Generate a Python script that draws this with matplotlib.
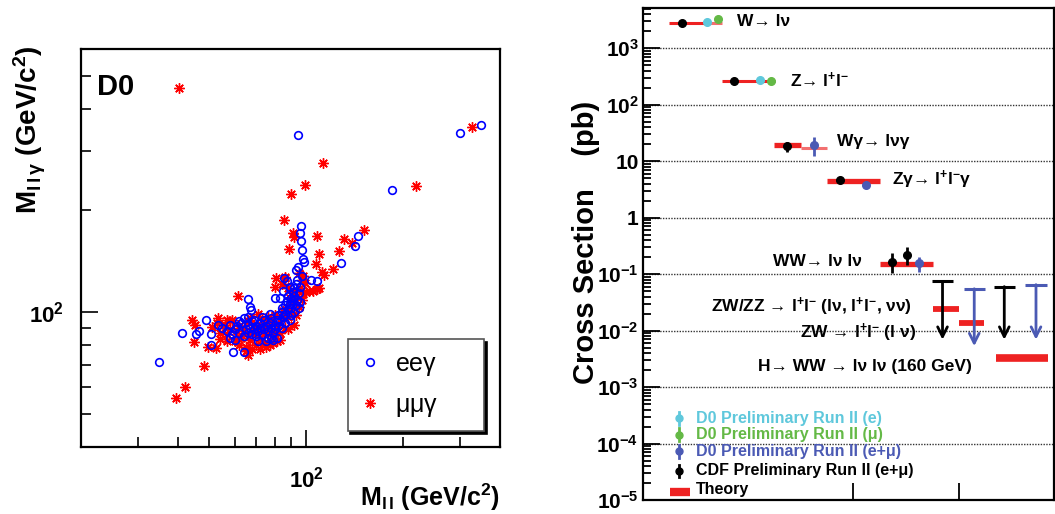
import numpy as np
import matplotlib
matplotlib.use("Agg")
import matplotlib.pyplot as plt
from matplotlib.ticker import FixedLocator, FixedFormatter, NullFormatter

plt.rcParams['mathtext.fontset'] = 'custom'
plt.rcParams['mathtext.rm'] = 'Liberation Sans'
plt.rcParams['mathtext.bf'] = 'Liberation Sans:bold'
plt.rcParams['mathtext.it'] = 'Liberation Sans:italic'

WIDE = ['Liberation Sans', 'DejaVu Sans']
NARROW = ['Liberation Sans Narrow', 'Liberation Sans', 'DejaVu Sans']

# ---------------- left panel data: M_ll vs M_llgamma (GeV/c^2) ----------------
ee_mll = [94.6, 300.8, 348.8, 185.4, 145.3, 142.2, 128.4, 108.4, 96.5, 96.0, 96.3, 97.0,
          97.7, 98.2, 94.6, 93.1, 65.9, 67.0, 67.2, 41.3, 34.9, 48.9, 45.6, 46.6, 50.5,
          50.8, 59.5, 64.3, 53.2, 77.9, 80.1, 85.6, 103.6,
          55, 57, 58, 59, 60, 61, 62, 63, 64, 65, 66, 66, 67, 68, 68, 69, 70, 70, 71, 72,
          72, 73, 74, 74, 75, 76, 76, 77, 78, 78, 79, 80, 80, 81, 82, 82, 83, 84, 84, 85,
          86, 86, 87, 88, 88, 89, 90, 90, 91, 91, 92, 92, 93, 93, 94, 94, 95, 89, 87, 85,
          83, 96, 97, 71, 75, 79, 81, 69, 73, 77, 62, 64, 66, 58, 60, 92, 90, 95, 96, 89,
          86, 84]
ee_mllg = [335, 339, 358, 230, 168, 157, 140, 124, 180, 171, 162.6, 152.7, 143.7, 141,
           136.4, 133.4, 109.7, 103.4, 101.5, 86.6, 71.2, 94.7, 86.4, 88.0, 86.0, 80.2,
           76.6, 76.6, 92.0, 84.1, 110.2, 126.6, 124.7,
           90, 88, 92, 86, 89, 91, 87, 93, 85, 89, 92, 87, 90, 86, 94, 89, 91, 85, 88, 93,
           90, 86, 89, 95, 91, 88, 84, 93, 90, 96, 87, 92, 89, 95, 91, 98, 94, 100, 103,
           97, 105, 99, 108, 102, 112, 106, 110, 103, 115, 108, 118, 112, 105, 121, 109,
           125, 114, 119, 124, 116, 110, 119, 128, 82, 82, 83, 84, 95, 97, 99, 94, 96, 97,
           84, 83, 100, 98, 103, 107, 95, 93, 90]

mm_mll = [40.3, 113.2, 99.3, 89.8, 219.6, 327, 85.6, 151.6, 131.5, 139.2, 126.9, 107.9,
          109.7, 91.1, 91.4, 88.7, 121, 114, 111.9, 107.2, 61.4, 80.7, 80.1, 85.9, 44.3,
          45.2, 45.0, 49.7, 52.6, 48.3, 42.1, 39.4, 66.2, 64.9, 53.1, 56.7, 56.7, 54.0,
          50.9,
          56, 57, 58, 59, 60, 61, 62, 63, 64, 65, 66, 67, 68, 69, 70, 70, 71, 72, 73, 74,
          74, 75, 76, 77, 77, 78, 79, 80, 80, 81, 82, 83, 84, 85, 86, 87, 88, 89, 90, 91,
          92, 93, 94, 95, 96, 97, 98, 100, 102, 105, 108, 110, 99, 97, 88, 86, 84, 95, 62,
          65, 68, 72, 75, 79, 83, 53, 54, 76, 71, 67, 98, 92, 88]
mm_mllg = [460, 276, 238, 223, 236, 353, 188, 175, 165, 160, 152, 168, 149, 171, 167, 154,
           134, 129, 132, 139, 112, 126, 119, 126.6, 94.7, 91.6, 81.9, 79.2, 78.3, 69.2,
           60.3, 55.7, 74.6, 76.9, 96.3, 95.2, 82.2, 83.6, 90.6,
           92, 86, 89, 95, 82, 88, 91, 84, 90, 86, 94, 83, 88, 92, 80, 87, 90, 84, 95, 81,
           88, 92, 86, 80, 90, 94, 85, 88, 98, 82, 92, 87, 96, 101, 90, 104, 97, 110, 100,
           107, 115, 98, 112, 104, 118, 109, 113, 115, 116, 116, 117, 118, 122, 125, 118,
           127, 121, 131, 80, 79, 78, 78, 79, 81, 83, 93, 87, 97, 99, 96, 128, 92, 89]

# ---------------- right panel data: cross sections (pb) ----------------
# theory bands: x start, x end, sigma
th_x0 = [0.25, 0.61, 0.75, 1.25, 1.50, 1.75, 2.25, 2.75, 3.00, 3.35]
th_x1 = [0.61, 0.75, 1.26, 1.50, 1.75, 2.25, 2.75, 3.00, 3.24, 3.85]
th_sig = [2780, 2780, 258, 19.4, 17.0, 4.49, 0.150, 0.024, 0.0136, 0.0033]
th_lw = [2.2, 2.2, 2.2, 3.8, 2.2, 3.8, 3.8, 4.2, 4.2, 5.5]
th_col = ['#ee2222', '#f27070', '#ee2222', '#ee2222', '#f27070', '#ee2222', '#ee2222',
          '#ee2222', '#ee2222', '#ee2222']

# measurements: x, sigma, lower err, upper err
cdf_x = [0.376, 0.870, 1.373, 1.874, 2.370, 2.507]
cdf_sig = [2830, 258, 18.9, 4.61, 0.167, 0.219]
cdf_lo = [0, 0, 4.1, 0.3, 0.063, 0.073]
cdf_hi = [0, 0, 3.3, 0.3, 0.068, 0.088]
d0e_x = [0.613, 1.114]
d0e_sig = [2950, 275]
d0m_x = [0.718, 1.216]
d0m_sig = [3300, 262]
d0em_x = [1.627, 2.121, 2.624]
d0em_sig = [19.4, 3.81, 0.160]
d0em_lo = [7.3, 0.4, 0.049]
d0em_hi = [7.8, 0.5, 0.045]

# upper limits: x, sigma at cap, tip of arrow
lim_x = [2.845, 3.146, 3.431, 3.732]
lim_cap = [0.074, 0.055, 0.060, 0.065]
lim_tip = [0.0069, 0.0053, 0.0069, 0.0069]
lim_col = ['black', '#4b5ab4', 'black', '#4b5ab4']

CYAN = '#5fc8dc'
GREEN = '#64b946'
BLUE = '#4b5ab4'
RED = '#ee2222'

W, H = 1055, 514
fig = plt.figure(figsize=(W / 100, H / 100), dpi=100)

# ======================= left panel =======================
axL = fig.add_axes([81 / W, 1 - 447 / H, 419 / W, 398 / H])
axL.set_xscale('log')
axL.set_yscale('log')
axL.plot(mm_mll, mm_mllg, ls='none', marker=(8, 2, 0), ms=7.5, mew=1.0, color='red',
         label=r'$\mathregular{\mu\mu\gamma}$')
axL.plot(ee_mll, ee_mllg, ls='none', marker='o', ms=5.5, mew=1.2, mfc='none', mec='blue',
         label=r'$\mathregular{ee\gamma}$')
axL.set_xlim(20, 400)
axL.set_ylim(40, 600)

axL.xaxis.set_major_locator(FixedLocator([100]))
axL.xaxis.set_minor_locator(FixedLocator([30, 40, 50, 60, 70, 80, 90, 200, 300]))
axL.xaxis.set_major_formatter(FixedFormatter([r'$\mathregular{10^{2}}$']))
axL.xaxis.set_minor_formatter(NullFormatter())
axL.yaxis.set_major_locator(FixedLocator([100]))
axL.yaxis.set_minor_locator(FixedLocator([50, 60, 70, 80, 90, 200, 300, 400, 500]))
axL.yaxis.set_major_formatter(FixedFormatter([r'$\mathregular{10^{2}}$']))
axL.yaxis.set_minor_formatter(NullFormatter())
axL.tick_params(which='both', direction='in', top=False, right=False, width=1.2)
axL.tick_params(which='major', length=12)
axL.tick_params(which='minor', length=7)
axL.tick_params(axis='x', which='major', pad=14)
axL.tick_params(axis='y', which='major', pad=12)
for lab in axL.get_xticklabels() + axL.get_yticklabels():
    lab.set_family(WIDE)
    lab.set_fontweight('bold')
    lab.set_fontsize(16)
for sp in axL.spines.values():
    sp.set_linewidth(1.6)

axL.text(0.037, 0.905, 'D0', transform=axL.transAxes, family=WIDE, fontweight='bold',
         fontsize=21, va='center', ha='left')
fig.text(30 / W, 1 - 130 / H, r'M$_{\mathregular{l\,l\,\gamma}}$ (GeV/c$^{\mathregular{2}}$)',
         rotation=90, family=WIDE, fontweight='bold', fontsize=20, ha='center', va='center')
fig.text(500 / W, 1 - 497 / H, r'M$_{\mathregular{l\,l}}$ (GeV/c$^{\mathregular{2}}$)',
         family=WIDE, fontweight='bold', fontsize=18, ha='right', va='center')

handles, labels = axL.get_legend_handles_labels()
leg = axL.legend(handles[::-1], labels[::-1], loc='lower left',
                 bbox_to_anchor=(0.6365, 0.040, 0.3255, 0.229), mode='expand',
                 borderaxespad=0, fancybox=False, shadow={'color': 'black', 'alpha': 1},
                 prop={'family': WIDE, 'size': 18}, labelspacing=0.6, borderpad=0.5,
                 handlelength=0.8, handletextpad=0.6)
leg.get_frame().set_edgecolor('#555555')
leg.get_frame().set_linewidth(1.2)

# ======================= right panel =======================
axR = fig.add_axes([642.7 / W, 1 - 500 / H, 411 / W, 491.7 / H])
axR.set_yscale('log')
axR.set_xlim(0, 3.9)
axR.set_ylim(1e-5, 5093)

for dec in [1e3, 1e2, 1e1, 1, 1e-1, 1e-2, 1e-3, 1e-4]:
    axR.axhline(dec, color='#333333', lw=1.0, ls=(0, (1, 1)), zorder=1)

for x0, x1, s, lw, c in zip(th_x0, th_x1, th_sig, th_lw, th_col):
    axR.plot([x0, x1], [s, s], color=c, lw=lw, solid_capstyle='butt', zorder=2)

axR.errorbar(cdf_x, cdf_sig, yerr=[cdf_lo, cdf_hi], fmt='o', color='black', ms=5.5,
             elinewidth=2, capsize=0, zorder=4)
axR.plot(d0e_x, d0e_sig, 'o', color=CYAN, ms=5.5, zorder=4)
axR.plot(d0m_x, d0m_sig, 'o', color=GREEN, ms=5.5, zorder=4)
axR.errorbar(d0em_x, d0em_sig, yerr=[d0em_lo, d0em_hi], fmt='o', color=BLUE, ms=5.5,
             elinewidth=2, capsize=0, zorder=4)

for x, cap, tip, c in zip(lim_x, lim_cap, lim_tip, lim_col):
    axR.plot([x - 0.1, x + 0.1], [cap, cap], color=c, lw=2.2, solid_capstyle='butt', zorder=3)
    axR.annotate('', xy=(x, tip), xytext=(x, cap),
                 arrowprops=dict(arrowstyle='->,head_length=0.7,head_width=0.35', color=c,
                                 lw=2, shrinkA=0, shrinkB=0), zorder=3)

lab_kw = dict(family=NARROW, fontweight='bold', fontsize=12.5, va='center')
axR.text(0.892, 2950, 'W→ lν', ha='left', **lab_kw)
axR.text(1.399, 266, r'Z→ l$^{\mathregular{+}}$l$^{\mathregular{-}}$', ha='left', **lab_kw)
axR.text(1.842, 21.9, 'Wγ→ lνγ', ha='left', **lab_kw)
axR.text(2.365, 4.67, r'Zγ→ l$^{\mathregular{+}}$l$^{\mathregular{-}}$γ', ha='left', **lab_kw)
axR.text(1.237, 0.167, 'WW→ lν lν', ha='left', **lab_kw)
axR.text(2.557, 0.0268,
         r'ZW/ZZ → l$^{\mathregular{+}}$l$^{\mathregular{-}}$ (lν, l$^{\mathregular{+}}$l$^{\mathregular{-}}$, νν)',
         ha='right', **lab_kw)
axR.text(2.595, 0.0091, r'ZW → l$^{\mathregular{+}}$l$^{\mathregular{-}}$ (l ν)', ha='right',
         **lab_kw)
axR.text(3.124, 0.00233, 'H→ WW → lν lν (160 GeV)', ha='right', **lab_kw)

# legend drawn in axes coordinates
leg_rows = [(CYAN, 'D0 Preliminary Run II (e)', 0.166),
            (GREEN, 'D0 Preliminary Run II (μ)', 0.133),
            (BLUE, 'D0 Preliminary Run II (e+μ)', 0.099),
            ('black', 'CDF Preliminary Run II (e+μ)', 0.059)]
for c, txt, yy in leg_rows:
    axR.plot([0.089], [yy], 'o', color=c, ms=5, transform=axR.transAxes, clip_on=False)
    axR.plot([0.089, 0.089], [yy - 0.013, yy + 0.013], color=c, lw=2,
             transform=axR.transAxes, clip_on=False)
    axR.text(0.130, yy, txt, color=c, transform=axR.transAxes, family=NARROW,
             fontweight='bold', fontsize=11.5, va='center', ha='left')
axR.plot([0.066, 0.115], [0.016, 0.016], color=RED, lw=6, solid_capstyle='butt',
         transform=axR.transAxes, clip_on=False)
axR.text(0.130, 0.021, 'Theory', transform=axR.transAxes, family=NARROW,
         fontweight='bold', fontsize=11.5, va='center', ha='left')

ydec = [1e-5, 1e-4, 1e-3, 1e-2, 1e-1, 1, 10, 1e2, 1e3]
ylab = [r'$\mathregular{10^{-5}}$', r'$\mathregular{10^{-4}}$', r'$\mathregular{10^{-3}}$',
        r'$\mathregular{10^{-2}}$', r'$\mathregular{10^{-1}}$', '1', '10',
        r'$\mathregular{10^{2}}$', r'$\mathregular{10^{3}}$']
axR.yaxis.set_major_locator(FixedLocator(ydec))
axR.yaxis.set_major_formatter(FixedFormatter(ylab))
minors = [m * d for d in [1e-5, 1e-4, 1e-3, 1e-2, 1e-1, 1, 10, 100, 1000]
          for m in range(2, 10)]
axR.yaxis.set_minor_locator(FixedLocator(minors))
axR.yaxis.set_minor_formatter(NullFormatter())
axR.xaxis.set_major_locator(FixedLocator([2, 3]))
axR.xaxis.set_major_formatter(NullFormatter())
axR.xaxis.set_minor_locator(FixedLocator([]))
axR.tick_params(which='both', direction='in', top=False, right=False, width=1.3)
axR.tick_params(which='major', length=12)
axR.tick_params(which='minor', length=6)
axR.tick_params(axis='y', which='major', pad=3)
for lab in axR.get_yticklabels():
    lab.set_family(NARROW)
    lab.set_fontweight('bold')
    lab.set_fontsize(15)
for sp in axR.spines.values():
    sp.set_linewidth(1.6)

fig.text(586 / W, 1 - 242 / H, 'Cross Section    (pb)', rotation=90, family=NARROW,
         fontweight='bold', fontsize=21, ha='center', va='center')

fig.savefig('out.png', dpi=100)
